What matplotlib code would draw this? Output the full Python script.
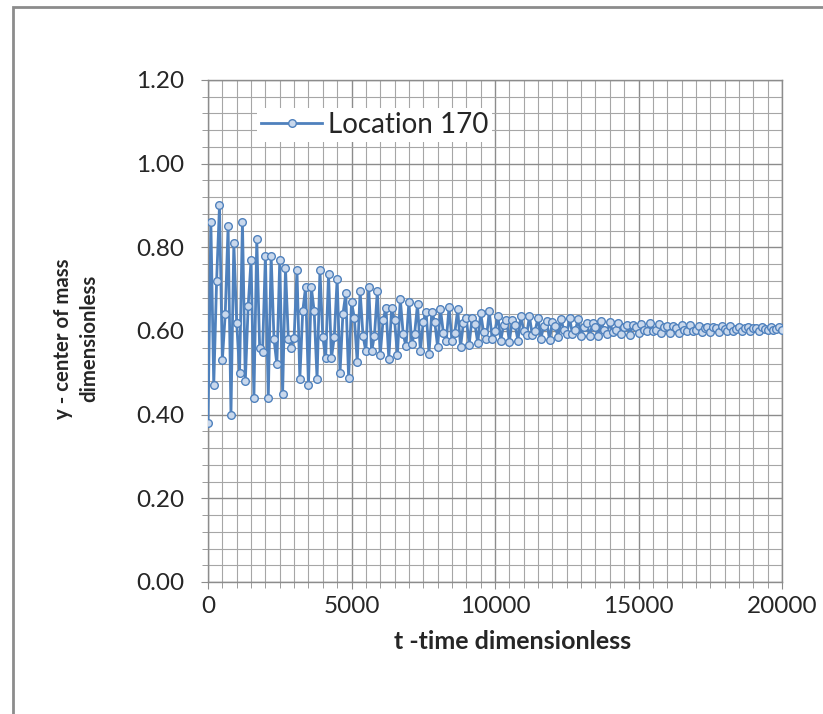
import matplotlib
matplotlib.use("Agg")
import matplotlib.pyplot as plt
from matplotlib.patches import Rectangle
from matplotlib.ticker import MultipleLocator
import numpy as np

plt.rcParams['font.family'] = ['Lato', 'DejaVu Sans']

# series, one sample every 100 time units
t_step = 100
y_0_3k = [0.38, 0.86, 0.47, 0.72, 0.90, 0.53, 0.64, 0.85, 0.40, 0.81,
          0.62, 0.50, 0.86, 0.48, 0.66, 0.77, 0.44, 0.82, 0.56, 0.55,
          0.78, 0.44, 0.78, 0.58, 0.52, 0.77, 0.45, 0.75, 0.58, 0.56]
y_3k_6k = [0.583, 0.746, 0.485, 0.647, 0.705, 0.470, 0.705, 0.647, 0.485, 0.746,
           0.585, 0.535, 0.737, 0.535, 0.585, 0.725, 0.500, 0.640, 0.690, 0.487,
           0.669, 0.631, 0.525, 0.696, 0.589, 0.551, 0.705, 0.551, 0.589, 0.696]
y_6k_9k = [0.542, 0.626, 0.656, 0.534, 0.656, 0.626, 0.542, 0.677, 0.593, 0.563,
           0.670, 0.570, 0.594, 0.664, 0.552, 0.622, 0.646, 0.546, 0.646, 0.622,
           0.562, 0.652, 0.596, 0.576, 0.657, 0.576, 0.596, 0.652, 0.562, 0.618]
y_9k_12k = [0.632, 0.567, 0.632, 0.616, 0.571, 0.643, 0.598, 0.582, 0.647, 0.582,
            0.600, 0.637, 0.577, 0.614, 0.627, 0.574, 0.627, 0.614, 0.577, 0.637,
            0.601, 0.590, 0.635, 0.590, 0.601, 0.632, 0.582, 0.613, 0.624, 0.579]
y_12k_15k = [0.622, 0.612, 0.585, 0.629, 0.602, 0.592, 0.631, 0.592, 0.602, 0.629,
             0.589, 0.610, 0.618, 0.587, 0.618, 0.610, 0.589, 0.623, 0.602, 0.594,
             0.621, 0.597, 0.603, 0.620, 0.593, 0.609, 0.615, 0.591, 0.615, 0.609]
y_15k_18k = [0.595, 0.617, 0.603, 0.599, 0.618, 0.599, 0.603, 0.617, 0.595, 0.609,
             0.611, 0.595, 0.611, 0.607, 0.596, 0.614, 0.603, 0.599, 0.615, 0.599,
             0.603, 0.612, 0.598, 0.607, 0.610, 0.597, 0.610, 0.607, 0.598, 0.612]
y_18k_20k = [0.604, 0.601, 0.611, 0.601, 0.604, 0.610, 0.600, 0.606, 0.609, 0.599,
             0.608, 0.606, 0.600, 0.610, 0.604, 0.602, 0.610, 0.602, 0.604, 0.610,
             0.603]

y_com = np.array(y_0_3k + y_3k_6k + y_6k_9k + y_9k_12k + y_12k_15k + y_15k_18k + y_18k_20k)
t = np.arange(len(y_com)) * t_step

series_name = "Location 170"
x_label = "t -time dimensionless"
y_label = "y - center of mass\ndimensionless"

blue = '#4f81bd'
text_c = '#262626'

fig = plt.figure(figsize=(8.23, 7.14), dpi=100)
ax = fig.add_axes([208 / 823, 1 - 582 / 714, 574 / 823, 502 / 714])

# chart area frame (runs off the right and bottom edge)
fig.patches.append(Rectangle((13 / 823, -0.05), 1.0, 1 - 7 / 714 + 0.05,
                             transform=fig.transFigure, fill=False,
                             edgecolor='#8c8c8c', linewidth=2))

ax.plot(t, y_com, color=blue, linewidth=2.0, marker='o', markersize=5.5,
        markerfacecolor='#c9d8ec', markeredgecolor=blue, markeredgewidth=1.0,
        label=series_name, zorder=3)

ax.set_xlim(0, 20000)
ax.set_ylim(0, 1.2)
ax.xaxis.set_major_locator(MultipleLocator(5000))
ax.xaxis.set_minor_locator(MultipleLocator(500))
ax.yaxis.set_major_locator(MultipleLocator(0.2))
ax.yaxis.set_minor_locator(MultipleLocator(0.04))
ax.yaxis.set_major_formatter(lambda v, p: f"{v:.2f}")

ax.grid(which='major', color='#8c8c8c', linewidth=1.0)
ax.grid(which='minor', color='#a6a6a6', linewidth=0.8)
ax.set_axisbelow(True)
for s in ax.spines.values():
    s.set_color('#8c8c8c')
    s.set_linewidth(1.0)

ax.tick_params(axis='both', which='major', labelsize=17.5, labelcolor=text_c,
               color='#8c8c8c', length=5)
ax.tick_params(axis='both', which='minor', color='#8c8c8c', length=4)
ax.tick_params(axis='x', which='major', pad=5)
ax.tick_params(axis='y', which='major', pad=12)

ax.set_xlabel(x_label, fontsize=18, fontweight='bold', color=text_c, labelpad=8)
ax.xaxis.set_label_coords(0.53, -0.095)
ax.set_ylabel(y_label, fontsize=14.7, fontweight='bold', color=text_c,
              labelpad=28, linespacing=1.35)
ax.yaxis.set_label_coords(-0.19, 0.485)

leg = ax.legend(loc='upper left', bbox_to_anchor=(0.085, 0.945), fontsize=20,
                frameon=True, fancybox=False, handlelength=2.2, handletextpad=0.2,
                borderpad=0.15, borderaxespad=0)
leg.get_frame().set_edgecolor('none')
leg.get_frame().set_facecolor('white')
leg.get_frame().set_alpha(1)
for txt in leg.get_texts():
    txt.set_color(text_c)

fig.savefig('out.png', dpi=100)
